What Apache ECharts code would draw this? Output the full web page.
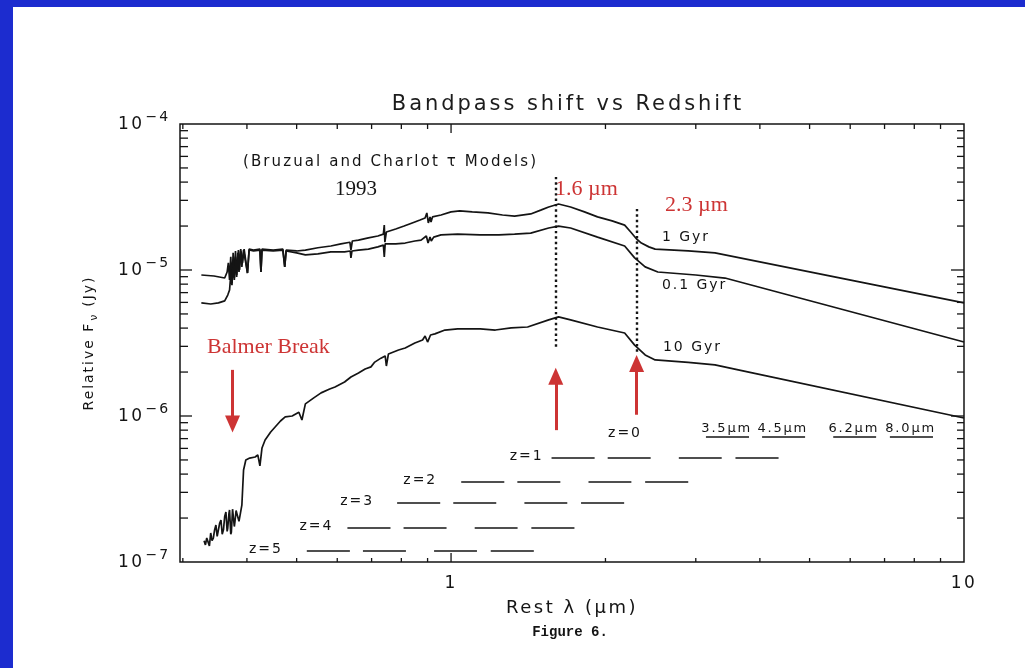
<!DOCTYPE html>
<html>
<head>
<meta charset="utf-8">
<script src="https://cdn.jsdelivr.net/npm/echarts@6/dist/echarts.min.js"></script>
<style>
  html, body { margin: 0; padding: 0; background: #ffffff; }
  #chart { width: 1025px; height: 668px; }
</style>
</head>
<body>
<div id="chart"></div>
<script>
// ---------------------------------------------------------------------------
// Model spectra (Bruzual & Charlot 1993 tau models): rest wavelength in µm,
// relative F_nu in Jy.
// ---------------------------------------------------------------------------
const wl1Gyr = [0.326, 0.345, 0.362, 0.366, 0.368, 0.370, 0.372, 0.374, 0.376, 0.378,
  0.380, 0.382, 0.385, 0.387, 0.389, 0.392, 0.395, 0.398, 0.401, 0.404,
  0.412, 0.424, 0.426, 0.428, 0.45, 0.47, 0.474, 0.477, 0.50, 0.52,
  0.55, 0.583, 0.61, 0.635, 0.638, 0.642, 0.66, 0.69, 0.72, 0.738,
  0.741, 0.743, 0.748, 0.78, 0.81, 0.84, 0.87, 0.89, 0.897, 0.903,
  0.91, 0.914, 0.92, 0.956, 1.0, 1.04, 1.1, 1.18, 1.26, 1.33,
  1.43, 1.50, 1.55, 1.62, 1.71, 1.82, 1.93, 2.06, 2.18, 2.24,
  2.30, 2.35, 2.43, 2.50, 2.9, 3.27, 10];
const flux1Gyr = [9.24e-6, 9.10e-6, 8.81e-6, 9.69e-6, 1.12e-5, 8.55e-6, 1.23e-5, 8.14e-6, 1.31e-5, 8.81e-6,
  1.35e-5, 9.24e-6, 1.37e-5, 1.00e-5, 1.39e-5, 1.12e-5, 1.39e-5, 1.37e-5, 9.53e-6, 1.39e-5,
  1.37e-5, 1.39e-5, 9.69e-6, 1.39e-5, 1.37e-5, 1.39e-5, 1.05e-5, 1.37e-5, 1.35e-5, 1.37e-5,
  1.42e-5, 1.46e-5, 1.51e-5, 1.55e-5, 1.37e-5, 1.58e-5, 1.60e-5, 1.66e-5, 1.71e-5, 1.76e-5,
  2.03e-5, 1.55e-5, 1.82e-5, 1.91e-5, 2.00e-5, 2.10e-5, 2.20e-5, 2.27e-5, 2.46e-5, 2.10e-5,
  2.31e-5, 2.13e-5, 2.31e-5, 2.38e-5, 2.50e-5, 2.54e-5, 2.50e-5, 2.46e-5, 2.38e-5, 2.34e-5,
  2.42e-5, 2.58e-5, 2.70e-5, 2.83e-5, 2.70e-5, 2.50e-5, 2.31e-5, 2.17e-5, 2.03e-5, 1.82e-5,
  1.63e-5, 1.53e-5, 1.44e-5, 1.39e-5, 1.35e-5, 1.31e-5, 5.95e-6];

const wl01Gyr = [0.326, 0.340, 0.352, 0.362, 0.367, 0.370, 0.372, 0.374, 0.376, 0.378,
  0.380, 0.382, 0.384, 0.386, 0.389, 0.391, 0.394, 0.397, 0.401, 0.404,
  0.412, 0.424, 0.426, 0.428, 0.45, 0.47, 0.474, 0.477, 0.50, 0.52,
  0.55, 0.583, 0.62, 0.636, 0.638, 0.641, 0.66, 0.69, 0.72, 0.738,
  0.741, 0.744, 0.78, 0.814, 0.85, 0.874, 0.895, 0.902, 0.91, 0.915,
  0.925, 0.956, 1.03, 1.14, 1.24, 1.33, 1.43, 1.55, 1.62, 1.71,
  1.93, 2.18, 2.28, 2.39, 2.53, 3.0, 3.42, 10];
const flux01Gyr = [5.95e-6, 5.85e-6, 5.95e-6, 6.14e-6, 6.74e-6, 7.29e-6, 9.24e-6, 7.88e-6, 1.12e-5, 8.55e-6,
  1.23e-5, 8.95e-6, 1.31e-5, 9.69e-6, 1.35e-5, 1.05e-5, 1.37e-5, 1.35e-5, 9.53e-6, 1.37e-5,
  1.35e-5, 1.37e-5, 9.69e-6, 1.37e-5, 1.35e-5, 1.37e-5, 1.05e-5, 1.35e-5, 1.31e-5, 1.27e-5,
  1.29e-5, 1.33e-5, 1.33e-5, 1.35e-5, 1.21e-5, 1.35e-5, 1.37e-5, 1.39e-5, 1.44e-5, 1.48e-5,
  1.23e-5, 1.51e-5, 1.51e-5, 1.53e-5, 1.58e-5, 1.60e-5, 1.71e-5, 1.53e-5, 1.68e-5, 1.58e-5,
  1.68e-5, 1.74e-5, 1.76e-5, 1.74e-5, 1.74e-5, 1.76e-5, 1.79e-5, 1.94e-5, 2.00e-5, 1.94e-5,
  1.68e-5, 1.46e-5, 1.21e-5, 1.05e-5, 9.69e-6, 9.24e-6, 8.81e-6, 3.21e-6];

const wl10Gyr = [0.330, 0.332, 0.334, 0.336, 0.338, 0.340, 0.342, 0.344, 0.346, 0.348,
  0.350, 0.352, 0.354, 0.356, 0.358, 0.360, 0.362, 0.364, 0.366, 0.367,
  0.369, 0.370, 0.372, 0.373, 0.375, 0.376, 0.378, 0.379, 0.381, 0.383,
  0.386, 0.388, 0.391, 0.394, 0.398,
  0.405, 0.415, 0.420, 0.424, 0.428, 0.434, 0.445, 0.454, 0.465, 0.475,
  0.490, 0.505, 0.512, 0.520, 0.540, 0.558, 0.580, 0.594, 0.620, 0.638,
  0.660, 0.680, 0.698, 0.710, 0.730, 0.744, 0.748, 0.755, 0.790, 0.814,
  0.850, 0.880, 0.890, 0.900, 0.912, 0.930, 0.973, 1.03, 1.14, 1.22,
  1.31, 1.41, 1.55, 1.62, 1.71, 1.93, 2.18, 2.28, 2.39, 2.50,
  2.9, 3.27, 3.63, 10];
const flux10Gyr = [1.40e-7, 1.31e-7, 1.46e-7, 1.48e-7, 1.29e-7, 1.58e-7, 1.40e-7, 1.46e-7, 1.66e-7, 1.79e-7,
  1.50e-7, 1.53e-7, 1.85e-7, 1.94e-7, 1.55e-7, 1.66e-7, 2.05e-7, 2.20e-7, 1.62e-7, 1.71e-7,
  2.15e-7, 2.27e-7, 1.55e-7, 1.60e-7, 2.30e-7, 2.34e-7, 1.75e-7, 1.88e-7, 2.25e-7, 2.10e-7,
  1.90e-7, 1.94e-7, 2.45e-7, 4.27e-7, 5.00e-7,
  5.15e-7, 5.24e-7, 5.41e-7, 4.55e-7, 6.04e-7, 6.85e-7, 7.77e-7, 8.41e-7, 9.24e-7, 9.85e-7,
  1.00e-6, 1.06e-6, 9.39e-7, 1.21e-6, 1.33e-6, 1.44e-6, 1.53e-6, 1.58e-6, 1.71e-6, 1.85e-6,
  1.97e-6, 2.10e-6, 2.17e-6, 2.34e-6, 2.49e-6, 2.58e-6, 2.20e-6, 2.66e-6, 2.83e-6, 2.92e-6,
  3.16e-6, 3.32e-6, 3.53e-6, 3.21e-6, 3.59e-6, 3.65e-6, 3.88e-6, 3.95e-6, 3.95e-6, 3.88e-6,
  4.01e-6, 4.07e-6, 4.55e-6, 4.77e-6, 4.55e-6, 4.07e-6, 3.70e-6, 3.06e-6, 2.62e-6, 2.42e-6,
  2.33e-6, 2.24e-6, 2.07e-6, 9.69e-7];

// Observed-frame bandpasses (µm) and the redshifts they are shifted to.
const bandNames = ['3.5µm', '4.5µm', '6.2µm', '8.0µm'];
const bandLo = [3.14, 4.04, 5.56, 7.17];
const bandHi = [3.81, 4.90, 6.74, 8.70];
const redshifts = [0, 1, 2, 3, 4, 5];

// Marked wavelengths (µm)
const markedWl = [1.6, 2.3];
const balmerWl = 0.375;

// Axis ticks
const xTickVals = [0.3, 0.4, 0.5, 0.6, 0.7, 0.8, 0.9, 1, 2, 3, 4, 5, 6, 7, 8, 9];
const xMajor = [1];
const yTickVals = [2e-7, 3e-7, 4e-7, 5e-7, 6e-7, 7e-7, 8e-7, 9e-7, 1e-6,
  2e-6, 3e-6, 4e-6, 5e-6, 6e-6, 7e-6, 8e-6, 9e-6, 1e-5,
  2e-5, 3e-5, 4e-5, 5e-5, 6e-5, 7e-5, 8e-5, 9e-5];
const yMajor = [1e-6, 1e-5];

// ---------------------------------------------------------------------------
// Styling
// ---------------------------------------------------------------------------
const INK = '#141414';
const RED = '#cd3434';
const BLUE = '#1c2ccf';
const SANS = "'DejaVu Sans', sans-serif";
const SERIF = "'Liberation Serif', 'DejaVu Serif', serif";
const MONO = "'Liberation Mono', 'DejaVu Sans Mono', monospace";

// Wide tracking for the plotter-style sans lettering.
(function () {
  const proto = CanvasRenderingContext2D.prototype;
  if (!('letterSpacing' in proto)) return;
  const track = (font) => {
    if (!/DejaVu Sans/.test(font) || /Mono/.test(font)) return '0px';
    const m = /([\d.]+)px/.exec(font);
    const px = m ? parseFloat(m[1]) : 12;
    return (px * 0.14).toFixed(2) + 'px';
  };
  const fill = proto.fillText, measure = proto.measureText;
  proto.fillText = function (t, x, y, w) {
    this.letterSpacing = track(this.font);
    return w === undefined ? fill.call(this, t, x, y) : fill.call(this, t, x, y, w);
  };
  proto.measureText = function (t) {
    this.letterSpacing = track(this.font);
    return measure.call(this, t);
  };
})();

// Row positions of the bandpass strips below the plot top (px)
const ROW_OFFSET = [313, 334, 358, 379, 404, 427];
const Z_GAP = [64, 8, 24, 23, 14, 24];

const pairs = (xs, ys) => xs.map((x, i) => [x, ys[i]]);

const bandData = [];
redshifts.forEach((z, r) => {
  bandLo.forEach((lo, b) => {
    bandData.push([lo / (1 + z), bandHi[b] / (1 + z), r, b]);
  });
});

const chart = echarts.init(document.getElementById('chart'), null, { renderer: 'canvas' });

const spectrum = (name, data, extra) => Object.assign({
  name, type: 'line', data, showSymbol: false, symbol: 'none', silent: true,
  lineStyle: { color: INK, width: 1.7 }, z: 3, animation: false
}, extra || {});

const option = {
  animation: false,
  backgroundColor: '#ffffff',
  grid: { left: 180, top: 124, width: 784, height: 438, show: true,
          borderColor: INK, borderWidth: 1.5, backgroundColor: 'transparent' },
  xAxis: {
    type: 'log', logBase: 10, min: 0.2962, max: 10,
    axisLine: { show: false }, axisTick: { show: false }, splitLine: { show: false },
    axisLabel: {
      margin: 12, color: INK, fontFamily: SANS, fontSize: 17,
      formatter: v => (Math.abs(v - 1) < 1e-6 || Math.abs(v - 10) < 1e-6) ? String(Math.round(v)) : ''
    },
    name: 'Rest λ (µm)', nameLocation: 'middle', nameGap: 32,
    nameTextStyle: { color: INK, fontFamily: SANS, fontSize: 18 }
  },
  yAxis: {
    type: 'log', logBase: 10, min: 1e-7, max: 1e-4,
    axisLine: { show: false }, axisTick: { show: false }, splitLine: { show: false },
    axisLabel: {
      margin: 10, color: INK,
      formatter: v => '{b|10}{s|−' + (-Math.round(Math.log10(v))) + '}',
      rich: {
        b: { fontFamily: SANS, fontSize: 17, color: INK, padding: [2, 0, 0, 0] },
        s: { fontFamily: SANS, fontSize: 14, color: INK, padding: [0, 0, 13, 1] }
      }
    },
    name: '{a|Relative F}{v|ν}{a| (Jy)}', nameLocation: 'middle', nameRotate: 90, nameGap: 80,
    nameTextStyle: {
      rich: {
        a: { fontFamily: SANS, fontSize: 14, color: INK },
        v: { fontFamily: SANS, fontSize: 11, color: INK, padding: [9, 0, 0, 1] }
      }
    }
  },
  series: [
    spectrum('1 Gyr', pairs(wl1Gyr, flux1Gyr), {
      markLine: {
        silent: true, animation: false, symbol: ['none', 'none'],
        label: { show: false },
        lineStyle: { color: INK, width: 2.4, type: [2.4, 3] },
        emphasis: { disabled: true },
        data: [
          [{ coord: [markedWl[0], 4.34e-5] }, { coord: [markedWl[0], 2.92e-6] }],
          [{ coord: [markedWl[1], 2.62e-5] }, { coord: [markedWl[1], 2.7e-6] }]
        ]
      }
    }),
    spectrum('0.1 Gyr', pairs(wl01Gyr, flux01Gyr)),
    spectrum('10 Gyr', pairs(wl10Gyr, flux10Gyr), {
      markLine: {
        silent: true, animation: false, symbol: ['none', 'triangle'], symbolSize: [15, 17],
        label: { show: false },
        lineStyle: { color: RED, width: 3, type: 'solid' },
        emphasis: { disabled: true },
        data: [
          [{ coord: [balmerWl, 2.07e-6] }, { coord: [balmerWl, 8.8e-7] }],
          [{ coord: [markedWl[0], 8.0e-7] }, { coord: [markedWl[0], 1.87e-6] }],
          [{ coord: [markedWl[1], 1.02e-6] }, { coord: [markedWl[1], 2.29e-6] }]
        ]
      }
    }),
    {
      // ticks along the bottom and top edges
      type: 'custom', silent: true, z: 4, clip: false,
      data: xTickVals.map(v => [v, 1e-6, xMajor.includes(v) ? 1 : 0]),
      renderItem: (params, api) => {
        const cs = params.coordSys;
        const x = api.coord([api.value(0), 1e-6])[0];
        const major = api.value(2) === 1;
        const lb = major ? 9 : 4, lt = major ? 9 : 5;
        const bottom = cs.y + cs.height;
        return { type: 'group', children: [
          { type: 'line', shape: { x1: x, y1: bottom, x2: x, y2: bottom - lb }, style: { stroke: INK, lineWidth: 1.3 } },
          { type: 'line', shape: { x1: x, y1: cs.y, x2: x, y2: cs.y + lt }, style: { stroke: INK, lineWidth: 1.3 } }
        ] };
      }
    },
    {
      // ticks along the left and right edges
      type: 'custom', silent: true, z: 4, clip: false,
      data: yTickVals.map(v => [1, v, yMajor.some(m => Math.abs(m - v) / m < 1e-6) ? 1 : 0]),
      renderItem: (params, api) => {
        const cs = params.coordSys;
        const y = api.coord([1, api.value(1)])[1];
        const major = api.value(2) === 1;
        const ll = major ? 12 : 8, lr = major ? 13 : 7;
        const right = cs.x + cs.width;
        return { type: 'group', children: [
          { type: 'line', shape: { x1: cs.x, y1: y, x2: cs.x + ll, y2: y }, style: { stroke: INK, lineWidth: 1.3 } },
          { type: 'line', shape: { x1: right, y1: y, x2: right - lr, y2: y }, style: { stroke: INK, lineWidth: 1.3 } }
        ] };
      }
    },
    {
      // bandpasses shifted to the rest frame for each redshift
      type: 'custom', silent: true, z: 4, clip: false,
      data: bandData,
      renderItem: (params, api) => {
        const cs = params.coordSys;
        const x0 = api.coord([api.value(0), 1e-6])[0];
        const x1 = api.coord([api.value(1), 1e-6])[0];
        const row = api.value(2), band = api.value(3);
        const y = cs.y + ROW_OFFSET[row];
        const children = [
          { type: 'line', shape: { x1: x0, y1: y, x2: x1, y2: y }, style: { stroke: INK, lineWidth: 1.4 } }
        ];
        if (row === 0) {
          children.push({ type: 'text', style: {
            text: bandNames[band], x: x1 + 3, y: y - 1,
            textAlign: 'right', textVerticalAlign: 'bottom', align: 'right', verticalAlign: 'bottom',
            font: '13px ' + SANS, fill: INK } });
        }
        if (band === 0) {
          children.push({ type: 'text', style: {
            text: 'z=' + redshifts[row], x: x0 - Z_GAP[row], y: y - (row === 0 ? 4 : 2),
            textAlign: 'right', textVerticalAlign: 'middle', align: 'right', verticalAlign: 'middle',
            font: '14px ' + SANS, fill: INK } });
        }
        return { type: 'group', children };
      }
    }
  ],
  graphic: [
    { type: 'rect', shape: { x: 0, y: 0, width: 1025, height: 7 }, style: { fill: BLUE }, silent: true },
    { type: 'rect', shape: { x: 0, y: 0, width: 13, height: 668 }, style: { fill: BLUE }, silent: true },
    { type: 'text', x: 568, y: 105, silent: true, style: {
        text: 'Bandpass shift vs Redshift', font: '21px ' + SANS, fill: '#1c1c1c',
        textAlign: 'center', textVerticalAlign: 'middle' } },
    { type: 'text', x: 243, y: 162, silent: true, style: {
        text: '(Bruzual and Charlot τ Models)', font: '15px ' + SANS, fill: INK,
        textAlign: 'left', textVerticalAlign: 'middle' } },
    { type: 'text', x: 335, y: 189, silent: true, style: {
        text: '1993', font: '21px ' + SERIF, fill: INK,
        textAlign: 'left', textVerticalAlign: 'middle' } },
    { type: 'text', x: 555, y: 189, silent: true, style: {
        text: '1.6 µm', font: '22px ' + SERIF, fill: RED,
        textAlign: 'left', textVerticalAlign: 'middle' } },
    { type: 'text', x: 665, y: 205, silent: true, style: {
        text: '2.3 µm', font: '22px ' + SERIF, fill: RED,
        textAlign: 'left', textVerticalAlign: 'middle' } },
    { type: 'text', x: 662, y: 237, silent: true, style: {
        text: '1 Gyr', font: '14px ' + SANS, fill: INK,
        textAlign: 'left', textVerticalAlign: 'middle' } },
    { type: 'text', x: 662, y: 285, silent: true, style: {
        text: '0.1 Gyr', font: '14px ' + SANS, fill: INK,
        textAlign: 'left', textVerticalAlign: 'middle' } },
    { type: 'text', x: 663, y: 347, silent: true, style: {
        text: '10 Gyr', font: '14px ' + SANS, fill: INK,
        textAlign: 'left', textVerticalAlign: 'middle' } },
    { type: 'text', x: 207, y: 347, silent: true, style: {
        text: 'Balmer Break', font: '22px ' + SERIF, fill: RED,
        textAlign: 'left', textVerticalAlign: 'middle' } },
    { type: 'text', x: 570, y: 632, silent: true, style: {
        text: 'Figure 6.', font: 'bold 14px ' + MONO, fill: INK,
        textAlign: 'center', textVerticalAlign: 'middle' } }
  ]
};

chart.setOption(option);
</script>
</body>
</html>
